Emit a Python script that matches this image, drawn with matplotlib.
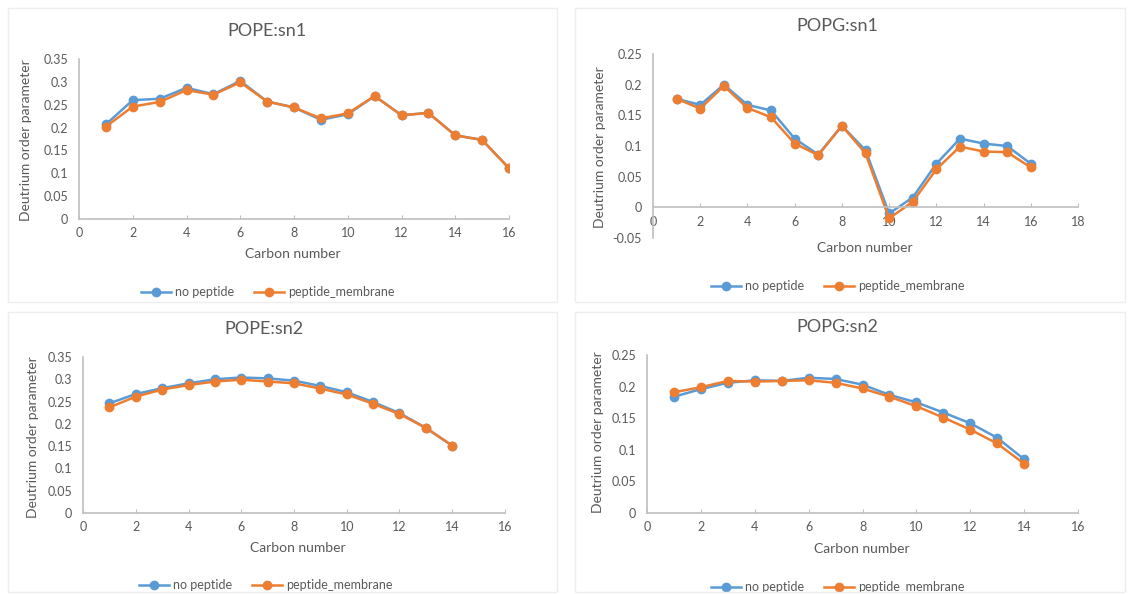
import matplotlib.pyplot as plt
from matplotlib.patches import Rectangle

plt.rcParams['font.family'] = ['Lato', 'DejaVu Sans']

# carbon numbers
c16 = list(range(1, 17))
c14 = list(range(1, 15))

# POPE sn1
pope_sn1_nopep = [0.207, 0.260, 0.263, 0.287, 0.273, 0.302, 0.257, 0.244, 0.217, 0.229,
                  0.269, 0.227, 0.232, 0.183, 0.173, 0.111]
pope_sn1_pepmem = [0.202, 0.246, 0.256, 0.282, 0.272, 0.299, 0.257, 0.244, 0.220, 0.231,
                   0.269, 0.227, 0.232, 0.183, 0.173, 0.111]

# POPG sn1
popg_sn1_nopep = [0.177, 0.167, 0.200, 0.167, 0.158, 0.112, 0.086, 0.133, 0.093, -0.010,
                  0.016, 0.071, 0.112, 0.104, 0.100, 0.071]
popg_sn1_pepmem = [0.177, 0.161, 0.198, 0.162, 0.147, 0.104, 0.085, 0.133, 0.088, -0.018,
                   0.009, 0.062, 0.099, 0.091, 0.090, 0.065]

# POPE sn2
pope_sn2_nopep = [0.246, 0.267, 0.280, 0.291, 0.300, 0.304, 0.302, 0.297, 0.285, 0.271,
                  0.249, 0.224, 0.191, 0.151]
pope_sn2_pepmem = [0.237, 0.261, 0.277, 0.287, 0.295, 0.299, 0.295, 0.291, 0.279, 0.266,
                   0.245, 0.222, 0.191, 0.151]

# POPG sn2
popg_sn2_nopep = [0.184, 0.196, 0.206, 0.210, 0.209, 0.214, 0.212, 0.203, 0.187, 0.175,
                  0.159, 0.142, 0.119, 0.085]
popg_sn2_pepmem = [0.191, 0.199, 0.209, 0.208, 0.209, 0.210, 0.206, 0.197, 0.184, 0.169,
                   0.151, 0.132, 0.110, 0.078]

blue = '#5B9BD5'
orange = '#ED7D31'
txt = '#595959'
axc = '#BFBFBF'

W, H = 1130, 594
fig = plt.figure(figsize=(W / 100, H / 100), dpi=100)


def fx(px):
    return px / W


def fy(py):
    return 1 - py / H


# faint chart-area borders
for (x0, y0, x1, y1) in [(8, 8, 557, 302), (575, 8, 1125, 302), (8, 312, 557, 592), (575, 312, 1125, 592)]:
    fig.patches.append(Rectangle((fx(x0), fy(y1)), fx(x1 - x0), (y1 - y0) / H,
                                 transform=fig.transFigure, fill=False,
                                 edgecolor='#EEEEEE', lw=1))

panels = [
    dict(title='POPE:sn1', x=c16, a=pope_sn1_nopep, b=pope_sn1_pepmem,
         box=(79, 509, 219, 59), ylim=(0, 0.35), ystep=0.05, xlim=(0, 16),
         title_xy=(267, 31), xl_xy=(293, 254), yl_xy=(26, 140), leg_xy=(268, 292)),
    dict(title='POPG:sn1', x=c16, a=popg_sn1_nopep, b=popg_sn1_pepmem,
         box=(653, 1078, 238, 54), ylim=(-0.05, 0.25), ystep=0.05, xlim=(0, 18),
         title_xy=(837, 26), xl_xy=(865, 248), yl_xy=(600, 147), leg_xy=(838, 286)),
    dict(title='POPE:sn2', x=c14, a=pope_sn2_nopep, b=pope_sn2_pepmem,
         box=(83, 505, 513, 357), ylim=(0, 0.35), ystep=0.05, xlim=(0, 16),
         title_xy=(264, 329), xl_xy=(298, 548), yl_xy=(33, 437), leg_xy=(266, 585)),
    dict(title='POPG:sn2', x=c14, a=popg_sn2_nopep, b=popg_sn2_pepmem,
         box=(647, 1078, 513, 355), ylim=(0, 0.25), ystep=0.05, xlim=(0, 16),
         title_xy=(837, 327), xl_xy=(862, 549), yl_xy=(598, 432), leg_xy=(838, 587)),
]

for p in panels:
    l, r, b, t = p['box']
    ax = fig.add_axes([fx(l), fy(b), fx(r - l), (b - t) / H])
    ax.plot(p['x'], p['a'], color=blue, marker='o', ms=6, lw=1.8, label='no peptide')
    ax.plot(p['x'], p['b'], color=orange, marker='o', ms=6, lw=1.8, label='peptide_membrane')
    ax.set_xlim(*p['xlim'])
    ax.set_ylim(*p['ylim'])
    ax.set_xticks(range(p['xlim'][0], p['xlim'][1] + 1, 2))
    n = int(round((p['ylim'][1] - p['ylim'][0]) / p['ystep']))
    yt = [round(p['ylim'][0] + i * p['ystep'], 2) for i in range(n + 1)]
    ax.set_yticks(yt)
    ax.set_yticklabels(['0' if v == 0 else ('%g' % v) for v in yt])
    for s in ['top', 'right']:
        ax.spines[s].set_visible(False)
    for s in ['left', 'bottom']:
        ax.spines[s].set_color(axc)
        ax.spines[s].set_linewidth(1.2)
    ax.spines['bottom'].set_position(('data', 0))
    ax.tick_params(axis='x', direction='in', length=3, color=axc, labelcolor=txt,
                   labelsize=9, pad=6)
    ax.tick_params(axis='y', length=0, labelcolor=txt, labelsize=9, pad=8)
    ax.set_facecolor('none')

    fig.text(fx(p['title_xy'][0]), fy(p['title_xy'][1]), p['title'], ha='center', va='center',
             fontsize=13, color=txt)
    fig.text(fx(p['xl_xy'][0]), fy(p['xl_xy'][1]), 'Carbon number', ha='center', va='center',
             fontsize=10, color=txt)
    fig.text(fx(p['yl_xy'][0]), fy(p['yl_xy'][1]), 'Deutrium order parameter', ha='center',
             va='center', rotation=90, fontsize=10, color=txt)
    leg = ax.legend(loc='center', bbox_to_anchor=(fx(p['leg_xy'][0]), fy(p['leg_xy'][1])),
                    bbox_transform=fig.transFigure, ncol=2, frameon=False, fontsize=9,
                    handlelength=2.4, columnspacing=1.6, handletextpad=0.3)
    for tx in leg.get_texts():
        tx.set_color(txt)

fig.savefig('out.png', dpi=100, facecolor='white')
